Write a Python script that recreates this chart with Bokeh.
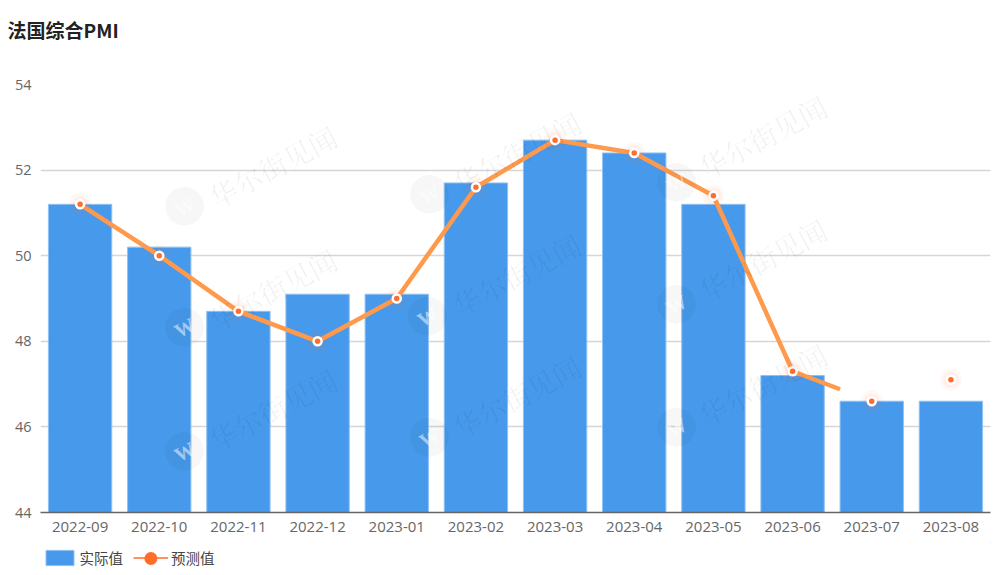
from bokeh.plotting import figure
from bokeh.layouts import column
from bokeh.models import Range1d, FixedTicker, Label, Legend, LegendItem, Title
from bokeh.embed import file_html
from bokeh.resources import INLINE

CJK = "Noto Sans CJK SC"
months = ["2022-09", "2022-10", "2022-11", "2022-12", "2023-01", "2023-02",
          "2023-03", "2023-04", "2023-05", "2023-06", "2023-07", "2023-08"]
actual = [51.2, 50.2, 48.7, 49.1, 49.1, 51.7, 52.7, 52.4, 51.2, 47.2, 46.6, 46.6]
forecast = [51.2, 50.0, 48.7, 48.0, 49.0, 51.6, 52.7, 52.4, 51.4, 47.3, 46.6, 47.1]
# the drawn line stops part-way between 2023-06 and 2023-07 in the reference
line_x = [0, 1, 2, 3, 4, 5, 6, 7, 8, 9, 9.6]
line_y = [51.2, 50.0, 48.7, 48.0, 49.0, 51.6, 52.7, 52.4, 51.4, 47.3, 46.88]
y_ticks = [44, 46, 48, 50, 52, 54]
xs = list(range(len(months)))

FRAME_L, FRAME_B = 41, 513

p = figure(frame_width=950, frame_height=428,
           x_range=Range1d(-0.5, 11.5), y_range=Range1d(44, 54),
           output_backend="svg", toolbar_location=None, min_border=0,
           min_border_left=40, min_border_right=2, min_border_top=84, min_border_bottom=30,
           background_fill_color="white", border_fill_color="white", outline_line_color=None)

# a blank title keeps the real one clear of the plot area
p.add_layout(Title(text=" ", text_font_size="15px", standoff=6), "above")
p.add_layout(Title(text="法国综合PMI", text_font=CJK, text_font_size="19px", text_font_style="bold",
                   text_color="#222222", align="left", offset=-33, vertical_align="top", standoff=30), "above")

# watermark: logo centre and text centre, page pixels
watermark = [((185, 207), (273, 167)), ((430, 195), (517, 153)), ((677, 183), (763, 137)),
             ((185, 328), (273, 290)), ((428, 317), (517, 275)), ((677, 305), (763, 260)),
             ((185, 452), (273, 410)), ((430, 438), (517, 397)), ((677, 428), (763, 385))]
for (lx, ly), (tx, ty) in watermark:
    p.add_layout(Label(x=tx - FRAME_L, y=FRAME_B - ty, x_units="screen", y_units="screen", text="华尔街见闻",
                       text_font="Noto Serif CJK SC", text_font_size="28px", text_color="#000000", text_alpha=0.06,
                       angle=28, angle_units="deg", text_align="center", text_baseline="middle"))
    p.add_layout(Label(x=lx - FRAME_L, y=FRAME_B - ly + 3, x_units="screen", y_units="screen", text="●",
                       text_font=CJK, text_font_size="43px", text_color="#000000", text_alpha=0.05,
                       text_align="center", text_baseline="middle"))
    p.add_layout(Label(x=lx - FRAME_L, y=FRAME_B - ly, x_units="screen", y_units="screen", text="W",
                       text_font="Liberation Serif", text_font_size="20px", text_font_style="bold",
                       text_color="#ffffff", text_alpha=0.5, angle=28, angle_units="deg",
                       text_align="center", text_baseline="middle"))

p.xgrid.visible = False
p.ygrid.ticker = FixedTicker(ticks=y_ticks)
p.ygrid.grid_line_color = "#d6d6d6"
p.ygrid.grid_line_width = 1.5

BAR_STYLE = dict(fill_color="#4095EB", fill_alpha=0.96, line_color="#8FC0F2", line_width=1)
p.vbar(x=xs, top=actual, bottom=44, width=0.8, **BAR_STYLE)
p.line(line_x, line_y, line_color="#FF9A4D", line_width=4.5, line_join="round")
p.scatter(xs, forecast, size=22, fill_color="#FF6D2D", fill_alpha=0.05, line_color=None)
p.scatter(xs, forecast, size=16, fill_color="#FF6D2D", fill_alpha=0.06, line_color=None)
p.scatter(xs, forecast, size=8, fill_color="#FF6D2D", line_color="white", line_width=2.5)

p.xaxis.ticker = FixedTicker(ticks=xs)
p.xaxis.major_label_overrides = dict(zip(xs, months))
p.yaxis.ticker = FixedTicker(ticks=y_ticks)
for ax in (p.xaxis[0], p.yaxis[0]):
    ax.major_tick_line_color = None
    ax.major_tick_out = 0
    ax.major_tick_in = 0
    ax.minor_tick_line_color = None
    ax.major_label_text_color = "#666666"
    ax.major_label_text_font = "Open Sans"
p.xaxis.major_label_text_font_size = "15px"
p.yaxis.major_label_text_font_size = "14.5px"
p.xaxis.axis_line_color = "#666666"
p.xaxis.axis_line_width = 1.5
p.xaxis.major_label_standoff = 9
p.yaxis.axis_line_color = None
p.yaxis.major_label_standoff = 9

# legend strip below the chart, ranges in strip pixels; the swatch renderers sit outside them
lg = figure(width=992, height=30, x_range=Range1d(0, 951), y_range=Range1d(0, 30),
            output_backend="svg", toolbar_location=None, min_border=0,
            x_axis_location=None, y_axis_location=None, outline_line_color=None,
            background_fill_color="white", border_fill_color="white")
lg.grid.visible = False
leg_bar = lg.vbar(x=[2000], top=[200], bottom=[100], width=0.8, **BAR_STYLE)
leg_line = lg.line([2000, 2001], [100, 101], line_color="#FF6D2D", line_width=1.5)
legend = Legend(items=[LegendItem(label="实际值", renderers=[leg_bar]),
                       LegendItem(label="预测值", renderers=[leg_line])],
                orientation="horizontal", location=(1.5, 4), border_line_color=None,
                background_fill_alpha=0, glyph_width=35, glyph_height=19, label_standoff=3,
                spacing=10, padding=0, margin=0, label_text_font=CJK, label_text_font_size="14.5px",
                label_text_color="#444444")
lg.add_layout(legend)
lg.scatter([110.5], [14], size=13, fill_color="#FF6D2D", line_color=None, level="overlay")

open("out.html", "w").write(file_html(column(p, lg, spacing=0), INLINE))
